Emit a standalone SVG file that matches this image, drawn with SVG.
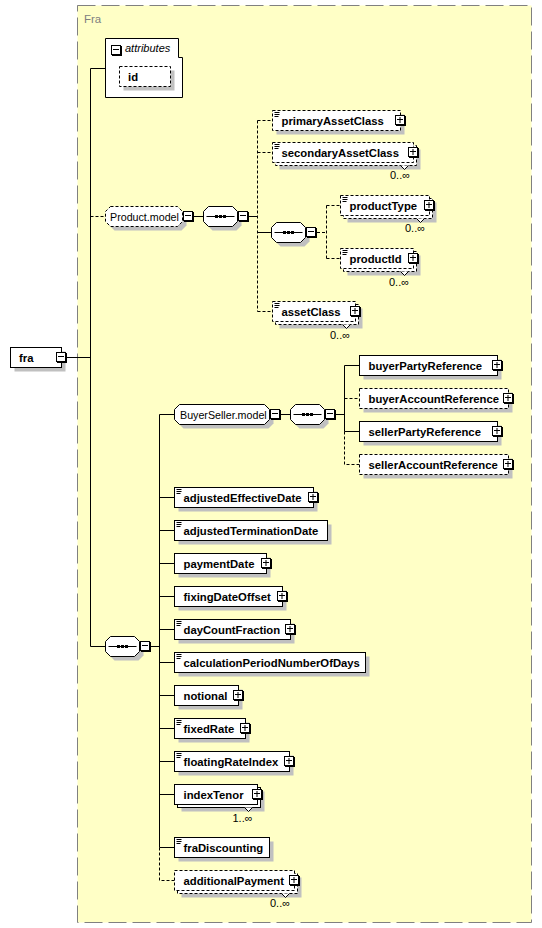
<svg xmlns="http://www.w3.org/2000/svg" xmlns:xlink="http://www.w3.org/1999/xlink" width="542" height="928" viewBox="0 0 542 928">
<style>
.bx{fill:#fff;stroke:#000;stroke-width:1}
.d{stroke-dasharray:3,2}
.sh{fill:#c0c0c0}
.ic{stroke:#000;stroke-width:1;fill:none}
.el{font-family:"Liberation Sans",Arial,sans-serif;font-weight:bold;font-size:11.3px;fill:#000}
.gl{font-family:"Liberation Sans",Arial,sans-serif;font-size:10.7px;fill:#000}
.mu{font-family:"Liberation Sans",Arial,sans-serif;font-size:11px;fill:#000}
.cn{fill:none;stroke:#000;stroke-width:1}
.v{fill:#fff;stroke:#000;stroke-width:1}
</style>
<defs>
<g id="pl"><rect x="1" y="1" width="10" height="10" fill="#000"/><rect x="0.5" y="0.5" width="9" height="9" fill="#fff" stroke="#000"/><rect x="2" y="4" width="6" height="1" fill="#000"/><rect x="4.5" y="2" width="1" height="6" fill="#000"/></g>
<g id="mn"><rect x="1" y="1" width="10" height="10" fill="#000"/><rect x="0.5" y="0.5" width="9" height="9" fill="#fff" stroke="#000"/><rect x="2" y="4" width="6" height="1" fill="#000"/></g>
<g id="seq"><path d="M9,4H33L38,9V19L33,24H9L4,19V9Z" fill="#c0c0c0"/><path d="M5,0H29L34,5V15L29,20H5L0,15V5Z" fill="#fff" stroke="#000"/><path d="M3,10H31" stroke="#000"/><rect x="11.5" y="8.5" width="3" height="3" fill="#000"/><rect x="15.5" y="8.5" width="3" height="3" fill="#000"/><rect x="19.5" y="8.5" width="3" height="3" fill="#000"/></g>
</defs>

<g id="Fra">
<rect x="77.5" y="5.5" width="454" height="917" fill="#ffffc6" stroke="#808080" stroke-dasharray="18,6"/>
<text x="84" y="23" font-family="'Liberation Sans',Arial,sans-serif" font-size="11.5" fill="#808080">Fra</text>
</g>

<g id="connectors">
<path class="cn" d="M67,357.5H90.5"/>
<path class="cn" d="M105.5,68.5H90.5V646.5H105.5"/>
<path class="cn d" d="M90.5,216.5H105.5"/>
<path class="cn" d="M193,216.5H203.5M238,216.5H257.5"/>
<path class="cn d" d="M257.5,120.5V311.5M257.5,120.5H272.5M257.5,152.5H272.5M257.5,311.5H272.5"/>
<path class="cn" d="M257.5,232.5H271.5"/>
<path class="cn d" d="M317,232.5H326.5M326.5,205.5V258.5M326.5,205.5H340.5M326.5,258.5H340.5"/>
<path class="cn" d="M151,646.5H159.5"/>
<path class="cn" d="M174.5,414.5H159.5V847.5"/>
<path class="cn d" d="M159.5,847.5V880.5H174.5"/>
<path class="cn" d="M281,414.5H290.5M336,414.5H344.5"/>
<path class="cn" d="M359.5,365.5H344.5V431.5H359.5"/>
<path class="cn d" d="M344.5,398.5H359.5M344.5,431.5V464.5H359.5"/>
<path class="cn" d="M159.5,497.5H174.5M159.5,530.5H174.5M159.5,563.5H174.5M159.5,596.5H174.5M159.5,629.5H174.5M159.5,662.5H174.5M159.5,695.5H174.5M159.5,728.5H174.5M159.5,761.5H174.5M159.5,794.5H174.5M159.5,847.5H174.5"/>
</g>

<g id="fra">
<rect class="sh" x="14.5" y="351.5" width="51" height="20"/>
<rect class="bx" x="10.5" y="347.5" width="51" height="20"/>
<text class="el" x="19" y="361.5">fra</text>
<use xlink:href="#mn" x="56" y="352"/>
</g>

<g id="attributes">
<path class="bx" d="M105.5,38.5H178.5V57.5H182.5V97.5H105.5Z"/>
<use xlink:href="#mn" x="111" y="45"/>
<text x="125" y="52" font-family="'Liberation Sans',Arial,sans-serif" font-style="italic" font-size="11" fill="#000">attributes</text>
</g>
<g id="id">
<rect class="sh" x="123.5" y="70.5" width="51" height="20"/>
<rect class="bx d" x="119.5" y="66.5" width="51" height="20"/>
<text class="el" x="128" y="80.5">id</text>
</g>

<g id="Product.model">
<path class="sh" d="M114.5,210.5H181.5L186.5,215.5V225.5L181.5,230.5H114.5L109.5,225.5V215.5Z"/>
<path class="bx d" d="M110.5,206.5H177.5L182.5,211.5V221.5L177.5,226.5H110.5L105.5,221.5V211.5Z"/>
<text class="gl" x="110" y="220.5">Product.model</text>
<use xlink:href="#mn" x="183" y="211"/>
</g>
<g id="seq1">
<use xlink:href="#seq" x="203.5" y="206.5"/>
<use xlink:href="#mn" x="238" y="211"/>
</g>

<g id="primaryAssetClass">
<rect class="sh" x="276.5" y="114.5" width="128" height="20"/>
<rect class="bx d" x="272.5" y="110.5" width="128" height="20"/>
<path class="ic" d="M274.5,112.5h5m-5,2h5m-5,2h4"/>
<text class="el" x="281.5" y="124.5">primaryAssetClass</text>
<use xlink:href="#pl" x="395" y="115"/>
</g>

<g id="secondaryAssetClass">
<rect class="sh" x="279.5" y="149.5" width="141" height="20"/>
<rect class="bx d" x="275.5" y="145.5" width="141" height="20"/>
<rect class="bx d" x="272.5" y="142.5" width="141" height="20"/>
<polyline class="v" points="400.5,165.5 404.5,169.5 408.5,165.5"/>
<path class="ic" d="M274.5,144.5h5m-5,2h5m-5,2h4"/>
<text class="el" x="281.5" y="156.5">secondaryAssetClass</text>
<use xlink:href="#pl" x="408" y="147"/>
<text class="mu" x="390" y="179">0..∞</text>
</g>

<g id="seq2">
<use xlink:href="#seq" x="271.5" y="222.5"/>
<use xlink:href="#mn" x="306" y="227"/>
</g>

<g id="productType">
<rect class="sh" x="347.5" y="202.5" width="89" height="20"/>
<rect class="bx d" x="343.5" y="198.5" width="89" height="20"/>
<rect class="bx d" x="340.5" y="195.5" width="89" height="20"/>
<polyline class="v" points="416.5,218.5 420.5,222.5 424.5,218.5"/>
<path class="ic" d="M342.5,197.5h5m-5,2h5m-5,2h4"/>
<text class="el" x="349.5" y="209.5">productType</text>
<use xlink:href="#pl" x="424" y="200"/>
<text class="mu" x="405" y="232">0..∞</text>
</g>

<g id="productId">
<rect class="sh" x="347.5" y="255.5" width="73" height="20"/>
<rect class="bx d" x="343.5" y="251.5" width="73" height="20"/>
<rect class="bx d" x="340.5" y="248.5" width="73" height="20"/>
<polyline class="v" points="400.5,271.5 404.5,275.5 408.5,271.5"/>
<path class="ic" d="M342.5,250.5h5m-5,2h5m-5,2h4"/>
<text class="el" x="349.5" y="262.5">productId</text>
<use xlink:href="#pl" x="408" y="253"/>
<text class="mu" x="389" y="285.5">0..∞</text>
</g>

<g id="assetClass">
<rect class="sh" x="279.5" y="308.5" width="83" height="20"/>
<rect class="bx d" x="275.5" y="304.5" width="83" height="20"/>
<rect class="bx d" x="272.5" y="301.5" width="83" height="20"/>
<polyline class="v" points="342.5,324.5 346.5,328.5 350.5,324.5"/>
<path class="ic" d="M274.5,303.5h5m-5,2h5m-5,2h4"/>
<text class="el" x="281.5" y="315.5">assetClass</text>
<use xlink:href="#pl" x="350" y="306"/>
<text class="mu" x="330" y="338.5">0..∞</text>
</g>

<g id="BuyerSeller.model">
<path class="sh" d="M183.5,408.5H268.5L273.5,413.5V423.5L268.5,428.5H183.5L178.5,423.5V413.5Z"/>
<path class="bx" d="M179.5,404.5H264.5L269.5,409.5V419.5L264.5,424.5H179.5L174.5,419.5V409.5Z"/>
<text class="gl" x="180" y="418.5">BuyerSeller.model</text>
<use xlink:href="#mn" x="270" y="409"/>
</g>
<g id="seq3">
<use xlink:href="#seq" x="290.5" y="404.5"/>
<use xlink:href="#mn" x="325" y="409"/>
</g>

<g id="buyerPartyReference">
<rect class="sh" x="363.5" y="359.5" width="138" height="20"/>
<rect class="bx" x="359.5" y="355.5" width="138" height="20"/>
<text class="el" x="368.5" y="369.5">buyerPartyReference</text>
<use xlink:href="#pl" x="492" y="360"/>
</g>
<g id="buyerAccountReference">
<rect class="sh" x="363.5" y="392.5" width="149" height="20"/>
<rect class="bx d" x="359.5" y="388.5" width="149" height="20"/>
<text class="el" x="368.5" y="402.5">buyerAccountReference</text>
<use xlink:href="#pl" x="503" y="393"/>
</g>
<g id="sellerPartyReference">
<rect class="sh" x="363.5" y="425.5" width="138" height="20"/>
<rect class="bx" x="359.5" y="421.5" width="138" height="20"/>
<text class="el" x="368.5" y="435.5">sellerPartyReference</text>
<use xlink:href="#pl" x="492" y="426"/>
</g>
<g id="sellerAccountReference">
<rect class="sh" x="363.5" y="458.5" width="149" height="20"/>
<rect class="bx d" x="359.5" y="454.5" width="149" height="20"/>
<text class="el" x="368.5" y="468.5">sellerAccountReference</text>
<use xlink:href="#pl" x="503" y="459"/>
</g>

<g id="seq4">
<use xlink:href="#seq" x="105.5" y="636.5"/>
<use xlink:href="#mn" x="140" y="641"/>
</g>

<g id="adjustedEffectiveDate">
<rect class="sh" x="178.5" y="491.5" width="139" height="20"/>
<rect class="bx" x="174.5" y="487.5" width="139" height="20"/>
<path class="ic" d="M176.5,489.5h5m-5,2h5m-5,2h4"/>
<text class="el" x="183.5" y="501.5">adjustedEffectiveDate</text>
<use xlink:href="#pl" x="308" y="492"/>
</g>
<g id="adjustedTerminationDate">
<rect class="sh" x="178.5" y="524.5" width="153" height="20"/>
<rect class="bx" x="174.5" y="520.5" width="153" height="20"/>
<path class="ic" d="M176.5,522.5h5m-5,2h5m-5,2h4"/>
<text class="el" x="183.5" y="534.5">adjustedTerminationDate</text>
</g>
<g id="paymentDate">
<rect class="sh" x="178.5" y="557.5" width="92" height="20"/>
<rect class="bx" x="174.5" y="553.5" width="92" height="20"/>
<text class="el" x="183.5" y="567.5">paymentDate</text>
<use xlink:href="#pl" x="261" y="558"/>
</g>
<g id="fixingDateOffset">
<rect class="sh" x="178.5" y="590.5" width="108" height="20"/>
<rect class="bx" x="174.5" y="586.5" width="108" height="20"/>
<text class="el" x="183.5" y="600.5">fixingDateOffset</text>
<use xlink:href="#pl" x="277" y="591"/>
</g>
<g id="dayCountFraction">
<rect class="sh" x="178.5" y="623.5" width="116" height="20"/>
<rect class="bx" x="174.5" y="619.5" width="116" height="20"/>
<path class="ic" d="M176.5,621.5h5m-5,2h5m-5,2h4"/>
<text class="el" x="183.5" y="633.5">dayCountFraction</text>
<use xlink:href="#pl" x="285" y="624"/>
</g>
<g id="calculationPeriodNumberOfDays">
<rect class="sh" x="178.5" y="656.5" width="191" height="20"/>
<rect class="bx" x="174.5" y="652.5" width="191" height="20"/>
<path class="ic" d="M176.5,654.5h5m-5,2h5m-5,2h4"/>
<text class="el" x="183.5" y="666.5">calculationPeriodNumberOfDays</text>
</g>
<g id="notional">
<rect class="sh" x="178.5" y="689.5" width="64" height="20"/>
<rect class="bx" x="174.5" y="685.5" width="64" height="20"/>
<text class="el" x="183.5" y="699.5">notional</text>
<use xlink:href="#pl" x="233" y="690"/>
</g>
<g id="fixedRate">
<rect class="sh" x="178.5" y="722.5" width="71" height="20"/>
<rect class="bx" x="174.5" y="718.5" width="71" height="20"/>
<path class="ic" d="M176.5,720.5h5m-5,2h5m-5,2h4"/>
<text class="el" x="183.5" y="732.5">fixedRate</text>
<use xlink:href="#pl" x="240" y="723"/>
</g>
<g id="floatingRateIndex">
<rect class="sh" x="178.5" y="755.5" width="115" height="20"/>
<rect class="bx" x="174.5" y="751.5" width="115" height="20"/>
<path class="ic" d="M176.5,753.5h5m-5,2h5m-5,2h4"/>
<text class="el" x="183.5" y="765.5">floatingRateIndex</text>
<use xlink:href="#pl" x="284" y="756"/>
</g>
<g id="indexTenor">
<rect class="sh" x="181.5" y="791.5" width="83" height="20"/>
<rect class="bx" x="177.5" y="787.5" width="83" height="20"/>
<rect class="bx" x="174.5" y="784.5" width="83" height="20"/>
<polyline class="v" points="244.5,807.5 248.5,811.5 252.5,807.5"/>
<text class="el" x="183.5" y="798.5">indexTenor</text>
<use xlink:href="#pl" x="252" y="789"/>
<text class="mu" x="232.5" y="821.5">1..∞</text>
</g>
<g id="fraDiscounting">
<rect class="sh" x="178.5" y="841.5" width="95" height="20"/>
<rect class="bx" x="174.5" y="837.5" width="95" height="20"/>
<path class="ic" d="M176.5,839.5h5m-5,2h5m-5,2h4"/>
<text class="el" x="183.5" y="851.5">fraDiscounting</text>
</g>
<g id="additionalPayment">
<rect class="sh" x="181.5" y="877.5" width="120" height="20"/>
<rect class="bx d" x="177.5" y="873.5" width="120" height="20"/>
<rect class="bx d" x="174.5" y="870.5" width="120" height="20"/>
<polyline class="v" points="281.5,893.5 285.5,897.5 289.5,893.5"/>
<text class="el" x="183.5" y="884.5">additionalPayment</text>
<use xlink:href="#pl" x="289" y="875"/>
<text class="mu" x="270" y="907">0..∞</text>
</g>
</svg>
